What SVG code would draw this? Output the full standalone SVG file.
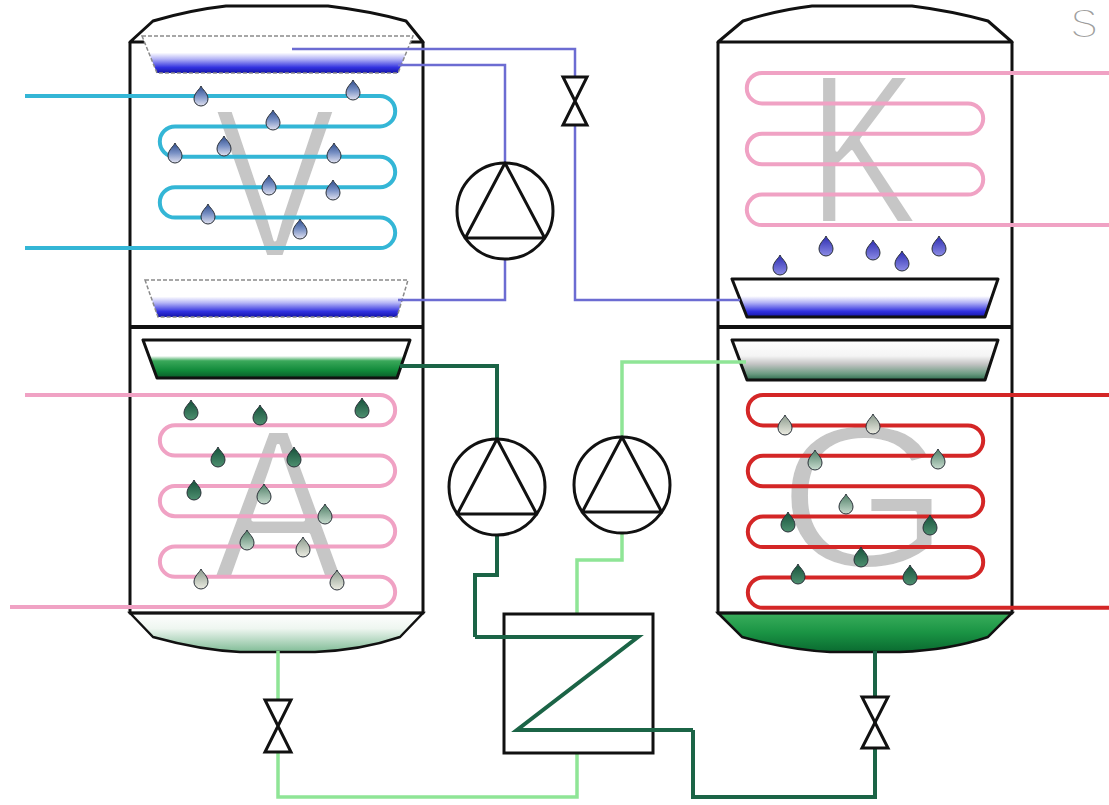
<svg xmlns="http://www.w3.org/2000/svg" xmlns:xlink="http://www.w3.org/1999/xlink" width="1109" height="805" viewBox="0 0 1109 805">
  <style>
    .vessel { fill: none; stroke: #111; stroke-width: 3; stroke-linejoin: round; }
    .divider { stroke: #111; stroke-width: 4; }
    .letter { font-family: "Liberation Sans", Arial, sans-serif; fill: #c6c6c6; stroke: #fff; stroke-width: 4; stroke-linejoin: round; }
    .coil { fill: none; stroke-width: 4; stroke-linecap: butt; }
    .cyan { stroke: #34b6d6; }
    .pink { stroke: #f0a2c4; }
    .red { stroke: #d42626; }
    .tray-dash { stroke: #8a8a8a; stroke-width: 1.5; stroke-dasharray: 4 2; }
    .tray-solid { stroke: #111; stroke-width: 3; stroke-linejoin: round; }
    .pipe { fill: none; stroke-linejoin: miter; }
    .blue { stroke: #6c6cd2; stroke-width: 2.5; }
    .dkgreen { stroke: #1b6446; stroke-width: 4; }
    .ltgreen { stroke: #8fe596; stroke-width: 3.5; }
    .pump circle, .pump polygon { fill: #fff; stroke: #111; stroke-width: 3; stroke-linejoin: round; }
    .valve { fill: #fff; stroke: #111; stroke-width: 3; stroke-linejoin: miter; }
    .hx { fill: #fff; stroke: #111; stroke-width: 3; }
    .drop { stroke: #2a3038; stroke-width: 1; }
  </style>
  <defs>
    <linearGradient id="blueLiquid" x1="0" y1="0" x2="0" y2="1">
      <stop offset="0" stop-color="#ffffff"/>
      <stop offset="0.45" stop-color="#ffffff"/>
      <stop offset="0.62" stop-color="#b4b4f6"/>
      <stop offset="0.85" stop-color="#3232e0"/>
      <stop offset="1" stop-color="#1414a8"/>
    </linearGradient>
    <linearGradient id="greenLiquid" x1="0" y1="0" x2="0" y2="1">
      <stop offset="0" stop-color="#ffffff"/>
      <stop offset="0.42" stop-color="#ffffff"/>
      <stop offset="0.55" stop-color="#3aa85a"/>
      <stop offset="0.8" stop-color="#118a3a"/>
      <stop offset="1" stop-color="#0a5a28"/>
    </linearGradient>
    <linearGradient id="greyGreenLiquid" x1="0" y1="0" x2="0" y2="1">
      <stop offset="0" stop-color="#ffffff"/>
      <stop offset="0.4" stop-color="#f4f4f4"/>
      <stop offset="0.6" stop-color="#c4c4c4"/>
      <stop offset="0.85" stop-color="#6a9a80"/>
      <stop offset="1" stop-color="#2c6a4c"/>
    </linearGradient>
    <linearGradient id="capLight" x1="0" y1="0" x2="0" y2="1">
      <stop offset="0" stop-color="#ffffff"/>
      <stop offset="0.4" stop-color="#eef6f0"/>
      <stop offset="1" stop-color="#80bc96"/>
    </linearGradient>
    <linearGradient id="capDark" x1="0" y1="0" x2="0" y2="1">
      <stop offset="0" stop-color="#3aae5c"/>
      <stop offset="0.5" stop-color="#1a9444"/>
      <stop offset="1" stop-color="#0a6a30"/>
    </linearGradient>
    <linearGradient id="dropBlue" x1="0" y1="0" x2="0" y2="1">
      <stop offset="0" stop-color="#2e4c8c"/>
      <stop offset="0.5" stop-color="#7890c4"/>
      <stop offset="1" stop-color="#e2e2f0"/>
    </linearGradient>
    <linearGradient id="dropViolet" x1="0" y1="0" x2="0" y2="1">
      <stop offset="0" stop-color="#2c2cb0"/>
      <stop offset="1" stop-color="#8c8ce6"/>
    </linearGradient>
    <linearGradient id="dropDark" x1="0" y1="0" x2="0" y2="1">
      <stop offset="0" stop-color="#16503a"/>
      <stop offset="1" stop-color="#4e9070"/>
    </linearGradient>
    <linearGradient id="dropMid" x1="0" y1="0" x2="0" y2="1">
      <stop offset="0" stop-color="#4e7e66"/>
      <stop offset="1" stop-color="#c8dccf"/>
    </linearGradient>
    <linearGradient id="dropLight" x1="0" y1="0" x2="0" y2="1">
      <stop offset="0" stop-color="#8a9a8c"/>
      <stop offset="1" stop-color="#ecece2"/>
    </linearGradient>
    <path id="drop" class="drop" d="M0,-12 C1,-9 7,-5 7,1 A7,7 0 0 1 -7,1 C-7,-5 -1,-9 0,-12 Z"/>
  </defs>

  <rect x="0" y="0" width="1109" height="805" fill="#fff"/>

  <!-- large section letters, drawn first so coils sit above them -->
  <g id="letters">
    <text class="letter" font-size="214" text-anchor="middle" transform="translate(275,257) scale(0.85,1)">V</text>
    <text class="letter" font-size="214" transform="translate(808,223) scale(0.77,1)">K</text>
    <text class="letter" font-size="214" text-anchor="middle" transform="translate(278,578) scale(0.91,1)">A</text>
    <text class="letter" font-size="205" text-anchor="middle" transform="translate(864,567) scale(1.08,1)">G</text>
    <text font-family="Liberation Sans, Arial, sans-serif" font-size="42" fill="#9c9c9c" stroke="#fff" stroke-width="2" x="1070" y="38">S</text>
  </g>

  <!-- left column: V (top) / A (bottom) -->
  <g id="vessel-left">
    <path d="M130,613 L153,637 Q200,650 240,652 L315,652 Q362,650 400,637 L423,613 Z" fill="url(#capLight)" stroke="#111" stroke-width="2.5"/>
    <path class="vessel" d="M130,42 L153,21 Q190,10 226,6 L328,6 Q370,11 406,21 L423,42 Z"/>
    <path class="vessel" d="M130,42 V613 H423 V42"/>
    <line class="divider" x1="130" y1="327" x2="423" y2="327"/>
  </g>

  <!-- right column: K (top) / G (bottom) -->
  <g id="vessel-right">
    <path d="M718,613 L742,637 Q790,650 830,652 L900,652 Q950,650 988,637 L1012,613 Z" fill="url(#capDark)" stroke="#111" stroke-width="2.5"/>
    <path class="vessel" d="M718,42 L743,21 Q778,10 812,6 L912,6 Q952,11 988,21 L1012,42 Z"/>
    <path class="vessel" d="M718,42 V613 H1012 V42"/>
    <line class="divider" x1="718" y1="327" x2="1012" y2="327"/>
  </g>

  <!-- collecting trays -->
  <g id="tray-v-top">
    <polygon class="tray-dash" points="142,36 413,36 398,73 157,73" fill="url(#blueLiquid)"/>
  </g>
  <g id="tray-v-bottom">
    <polygon class="tray-dash" points="145,280 408,280 397,317 158,317" fill="url(#blueLiquid)"/>
  </g>
  <g id="tray-a">
    <polygon class="tray-solid" points="143,340 410,340 397,378 157,378" fill="url(#greenLiquid)"/>
  </g>
  <g id="tray-k">
    <polygon class="tray-solid" points="732,279 998,279 985,317 747,317" fill="url(#blueLiquid)"/>
  </g>
  <g id="tray-g">
    <polygon class="tray-solid" points="732,340 998,340 985,380 747,380" fill="url(#greyGreenLiquid)"/>
  </g>

  <!-- heat-exchange coils -->
  <g id="coil-v">
    <path class="coil cyan" d="M25,96 H380 A15.2,15.2 0 0 1 380,126.4 H175 A15.2,15.2 0 0 0 175,156.8 H380 A15.2,15.2 0 0 1 380,187.2 H175 A15.2,15.2 0 0 0 175,217.6 H380 A15.2,15.2 0 0 1 380,248 H25"/>
  </g>
  <g id="coil-a">
    <path class="coil pink" d="M25,395 H380 A15.15,15.15 0 0 1 380,425.3 H175 A15.15,15.15 0 0 0 175,455.6 H380 A15.15,15.15 0 0 1 380,485.9 H175 A15.15,15.15 0 0 0 175,516.2 H380 A15.15,15.15 0 0 1 380,546.5 H175 A15.15,15.15 0 0 0 175,576.8 H380 A15.15,15.15 0 0 1 380,607.1 H10"/>
  </g>
  <g id="coil-k">
    <path class="coil pink" d="M1109,73 H762 A15.2,15.2 0 0 0 762,103.4 H968 A15.2,15.2 0 0 1 968,133.8 H762 A15.2,15.2 0 0 0 762,164.2 H968 A15.2,15.2 0 0 1 968,194.6 H762 A15.2,15.2 0 0 0 762,225 H1109"/>
  </g>
  <g id="coil-g">
    <path class="coil red" d="M1109,395 H763 A15.2,15.2 0 0 0 763,425.4 H968 A15.2,15.2 0 0 1 968,455.8 H763 A15.2,15.2 0 0 0 763,486.2 H968 A15.2,15.2 0 0 1 968,516.6 H763 A15.2,15.2 0 0 0 763,547 H968 A15.2,15.2 0 0 1 968,577.4 H763 A15.2,15.2 0 0 0 763,607.8 H1109"/>
  </g>

  <!-- droplets -->
  <g id="drops-v" fill="url(#dropBlue)">
    <use href="#drop" x="201" y="98"/>
    <use href="#drop" x="353" y="92"/>
    <use href="#drop" x="273" y="122"/>
    <use href="#drop" x="175" y="155"/>
    <use href="#drop" x="224" y="148"/>
    <use href="#drop" x="334" y="155"/>
    <use href="#drop" x="269" y="187"/>
    <use href="#drop" x="333" y="192"/>
    <use href="#drop" x="208" y="216"/>
    <use href="#drop" x="300" y="231"/>
  </g>
  <g id="drops-k" fill="url(#dropViolet)">
    <use href="#drop" x="780" y="267"/>
    <use href="#drop" x="826" y="248"/>
    <use href="#drop" x="873" y="252"/>
    <use href="#drop" x="902" y="263"/>
    <use href="#drop" x="939" y="248"/>
  </g>
  <g id="drops-a">
    <use href="#drop" x="191" y="412" fill="url(#dropDark)"/>
    <use href="#drop" x="260" y="417" fill="url(#dropDark)"/>
    <use href="#drop" x="362" y="410" fill="url(#dropDark)"/>
    <use href="#drop" x="218" y="459" fill="url(#dropDark)"/>
    <use href="#drop" x="294" y="459" fill="url(#dropDark)"/>
    <use href="#drop" x="194" y="492" fill="url(#dropDark)"/>
    <use href="#drop" x="264" y="496" fill="url(#dropMid)"/>
    <use href="#drop" x="325" y="516" fill="url(#dropMid)"/>
    <use href="#drop" x="247" y="542" fill="url(#dropMid)"/>
    <use href="#drop" x="303" y="549" fill="url(#dropLight)"/>
    <use href="#drop" x="201" y="581" fill="url(#dropLight)"/>
    <use href="#drop" x="337" y="582" fill="url(#dropLight)"/>
  </g>
  <g id="drops-g">
    <use href="#drop" x="785" y="427" fill="url(#dropLight)"/>
    <use href="#drop" x="873" y="426" fill="url(#dropLight)"/>
    <use href="#drop" x="815" y="462" fill="url(#dropMid)"/>
    <use href="#drop" x="938" y="461" fill="url(#dropMid)"/>
    <use href="#drop" x="846" y="506" fill="url(#dropMid)"/>
    <use href="#drop" x="788" y="524" fill="url(#dropDark)"/>
    <use href="#drop" x="930" y="527" fill="url(#dropDark)"/>
    <use href="#drop" x="861" y="559" fill="url(#dropDark)"/>
    <use href="#drop" x="798" y="576" fill="url(#dropDark)"/>
    <use href="#drop" x="910" y="577" fill="url(#dropDark)"/>
  </g>

  <!-- piping between the columns -->
  <g id="pipes">
    <path class="pipe blue" d="M292,49 H575 V300 H740"/>
    <path class="pipe blue" d="M398,65 H505 V163"/>
    <path class="pipe blue" d="M505,259 V300 H398"/>
    <path class="pipe dkgreen" d="M400,366 H497 V439"/>
    <path class="pipe dkgreen" d="M497,535 V575 H475 V637"/>
    <path class="pipe dkgreen" d="M693,730 V797 H875 V651"/>
    <path class="pipe ltgreen" d="M746,362 H622 V437"/>
    <path class="pipe ltgreen" d="M622,533 V560 H577 V614"/>
    <path class="pipe ltgreen" d="M577,753 V797 H278 V651"/>
  </g>

  <!-- heat exchanger with its internal coil -->
  <g id="hx">
    <rect class="hx" x="504" y="614" width="149" height="139"/>
    <path class="pipe dkgreen" d="M475,637 H638 L517,730 H693"/>
  </g>

  <!-- circulation pumps -->
  <g id="pump-v" class="pump">
    <circle cx="505" cy="211" r="48"/>
    <polygon points="505,163 465.3,238 544.7,238"/>
  </g>
  <g id="pump-a" class="pump">
    <circle cx="497" cy="487" r="48"/>
    <polygon points="497,439 457.3,514 536.7,514"/>
  </g>
  <g id="pump-g" class="pump">
    <circle cx="622" cy="485" r="48"/>
    <polygon points="622,437 582.3,512 661.7,512"/>
  </g>

  <!-- throttle valves -->
  <g id="valve-top">
    <polygon class="valve" points="563,77 587,77 563,125 587,125"/>
  </g>
  <g id="valve-left">
    <polygon class="valve" points="265,700 291,700 265,752 291,752"/>
  </g>
  <g id="valve-right">
    <polygon class="valve" points="862,697 888,697 862,748 888,748"/>
  </g>
</svg>
